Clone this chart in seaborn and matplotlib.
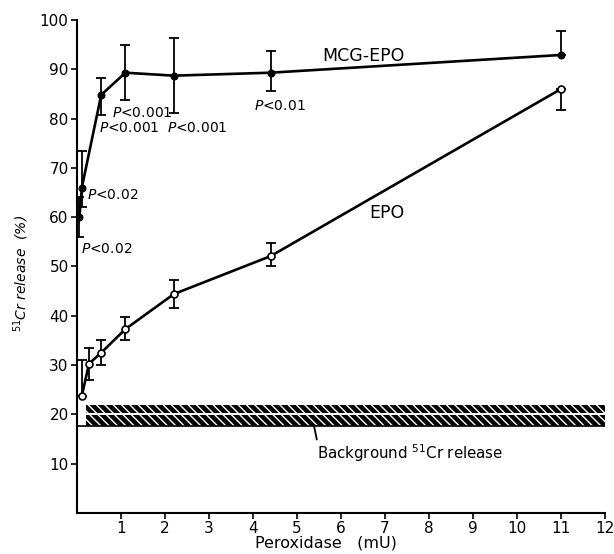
import matplotlib
matplotlib.use("Agg")
import matplotlib.pyplot as plt
import seaborn as sns
import numpy as np
import pandas as pd

# ---- data ----
mcg_x = [0.055, 0.11, 0.55, 1.1, 2.2, 4.4, 11.0]
mcg_y = [60.0, 66.0, 84.8, 89.3, 88.7, 89.3, 92.9]
mcg_hi = [64.0, 73.5, 88.3, 94.9, 96.3, 93.7, 97.8]
mcg_lo = [56.0, 62.0, 80.8, 83.7, 81.1, 85.5, 92.9]

epo_x = [0.11, 0.275, 0.55, 1.1, 2.2, 4.4, 11.0]
epo_y = [23.8, 30.3, 32.5, 37.3, 44.4, 52.1, 86.0]
epo_hi = [31.0, 33.5, 35.0, 39.8, 47.3, 54.7, 86.0]
epo_lo = [23.8, 27.0, 30.0, 35.1, 41.5, 50.0, 81.7]

bg_low, bg_mid, bg_high = 17.7, 20.0, 21.9
bg_x = [0.2, 12.0]

x_ticks = list(range(1, 13))
y_ticks = list(range(10, 101, 10))

p_labels = ["P<0.001", "P<0.001", "P<0.001", "P<0.01", "P<0.02", "P<0.02"]
p_x = [0.80, 0.50, 2.05, 4.02, 0.23, 0.09]
p_y = [81.2, 78.0, 78.0, 82.6, 64.5, 53.5]

sns.set_theme(style="ticks")
plt.rcParams['font.family'] = ['DejaVu Sans']
plt.rcParams['hatch.linewidth'] = 1.0
for k in ["text.color", "axes.labelcolor", "xtick.color", "ytick.color",
          "xtick.labelcolor", "ytick.labelcolor"]:
    plt.rcParams[k] = "black"

fig = plt.figure(figsize=(6.14, 5.54), dpi=100)
ax = fig.add_axes([0.1254, 0.074, 0.8600, 0.890])

df = pd.concat([
    pd.DataFrame({"x": mcg_x, "y": mcg_y, "s": "MCG-EPO"}),
    pd.DataFrame({"x": epo_x, "y": epo_y, "s": "EPO"}),
])

sns.lineplot(data=df[df.s == "MCG-EPO"], x="x", y="y", ax=ax, color="black",
             lw=1.9, marker="o", markersize=5, markerfacecolor="black",
             markeredgecolor="black", legend=False, zorder=4)
sns.lineplot(data=df[df.s == "EPO"], x="x", y="y", ax=ax, color="black",
             lw=1.9, marker="o", markersize=5, markerfacecolor="white",
             markeredgecolor="black", markeredgewidth=1.2, legend=False, zorder=4)

for xs, ys, lo, hi in [(mcg_x, mcg_y, mcg_lo, mcg_hi), (epo_x, epo_y, epo_lo, epo_hi)]:
    ys = np.array(ys)
    yerr = np.vstack([ys - np.array(lo), np.array(hi) - ys])
    ax.errorbar(xs, ys, yerr=yerr, fmt="none", ecolor="black", elinewidth=1.3,
                capsize=3.5, capthick=1.3, zorder=3)

# background band
ax.fill_between(bg_x, bg_low, bg_mid - 0.2, facecolor="black", edgecolor="white",
                hatch="\\\\\\\\", linewidth=0, zorder=2)
ax.fill_between(bg_x, bg_mid + 0.2, bg_high, facecolor="black", edgecolor="white",
                hatch="\\\\\\\\", linewidth=0, zorder=2)
ax.plot([0, 12], [bg_low, bg_low], color="black", lw=1.2, zorder=2)
ax.plot([5.39, 5.45], [17.5, 14.9], color="black", lw=1.3)
ax.text(5.45, 12.2, "Background $^{51}$Cr release", fontsize=10.8, va="center", ha="left")

ax.text(6.52, 92.6, "MCG-EPO", fontsize=12.5, ha="center", va="center")
ax.text(7.05, 60.8, "EPO", fontsize=12.5, ha="center", va="center")

for t, xx, yy in zip(p_labels, p_x, p_y):
    ax.text(xx, yy, "$\\it{P}$" + t[1:], fontsize=10, ha="left", va="center")

ax.set_xlim(0, 12)
ax.set_ylim(0, 100)
ax.set_xticks(x_ticks)
ax.set_yticks(y_ticks)
ax.tick_params(axis="both", labelsize=11, length=4, width=1.2, color="black",
               labelcolor="black", pad=2)
for s in ["top", "right"]:
    ax.spines[s].set_visible(False)
for s in ["left", "bottom"]:
    ax.spines[s].set_linewidth(1.5)
    ax.spines[s].set_color("black")

ax.set_xlabel("Peroxidase   (mU)", fontsize=11.5, labelpad=0)
ax.xaxis.set_label_coords(0.472, -0.045)
ax.set_ylabel("$^{51}$Cr release  (%)", fontsize=10, style="italic")
ax.yaxis.set_label_coords(-0.088, 0.485)

fig.savefig("out.png", dpi=100)
